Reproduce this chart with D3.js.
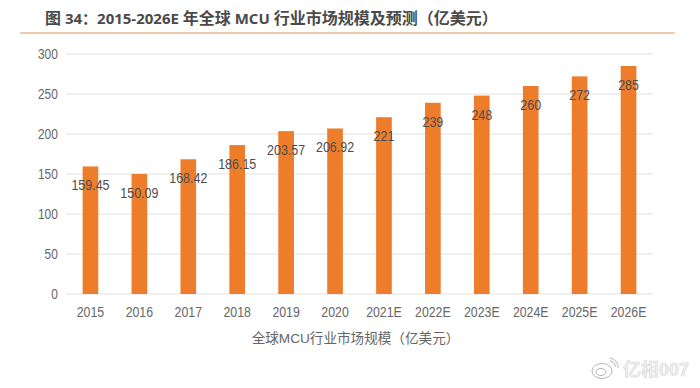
<!DOCTYPE html>
<html>
<head>
<meta charset="utf-8">
<script src="https://d3js.org/d3.v7.min.js"></script>
<style>
  html, body { margin: 0; padding: 0; background: #fff; }
  text { font-family: "Liberation Sans", "Noto Sans CJK SC", sans-serif; }
</style>
</head>
<body>
<svg id="chart" width="700" height="388"></svg>
<script>
var years = ["2015","2016","2017","2018","2019","2020","2021E","2022E","2023E","2024E","2025E","2026E"];
var values = [159.45,150.09,168.42,186.15,203.57,206.92,221,239,248,260,272,285];
var yTicks = [0,50,100,150,200,250,300];
var titleParts = ["图", " 34：2015-2026E ", "年全球", " MCU ", "行业市场规模及预测（亿美元）"];

var svg = d3.select("#chart");
var left = 66, right = 653, top_ = 54, bottom = 294;

var x = d3.scaleBand().domain(years).range([left, right]).paddingInner(0.68).paddingOuter(0.34);
var y = d3.scaleLinear().domain([0, 300]).range([bottom, top_]);

// title + rule, the chinese runs are a little bigger than the latin ones
var title = svg.append("text").attr("x", 45).attr("y", 24)
  .attr("font-weight", "bold").attr("fill", "#4a4a4a")
  .attr("xml:space", "preserve").style("white-space", "pre")
  .style("font-family", '"Open Sans", "Noto Sans CJK SC", sans-serif');
title.selectAll("tspan").data(titleParts).join("tspan")
  .attr("font-size", (d, i) => i % 2 == 0 ? 16 : 15)
  .text(d => d);

svg.append("line").attr("x1", 20).attr("x2", 675).attr("y1", 33).attr("y2", 33)
  .attr("stroke", "#e09a5c").attr("stroke-width", 1.2);

// grid
svg.append("g").selectAll("line").data(yTicks).join("line")
  .attr("x1", left).attr("x2", right)
  .attr("y1", d => y(d)).attr("y2", d => y(d))
  .attr("stroke", "#e2e2e2").attr("stroke-width", 1.2);

// axes, digits in the picture are tall and narrow so squeeze them sideways
var yAxis = svg.append("g").attr("transform", "translate(" + left + ",0)")
  .call(d3.axisLeft(y).tickValues(yTicks).tickSize(0).tickPadding(10));
yAxis.select(".domain").remove();
yAxis.selectAll("text").attr("font-size", 14.5).attr("fill", "#666")
  .attr("transform", "scale(0.82,1)")
  .style("font-family", '"Liberation Sans"');

var xAxis = svg.append("g").attr("transform", "translate(0," + bottom + ")")
  .call(d3.axisBottom(x).tickSize(0).tickPadding(13));
xAxis.select(".domain").remove();
xAxis.selectAll("text").attr("font-size", 14.5).attr("fill", "#666")
  .attr("transform", "scale(0.85,1)")
  .style("font-family", '"Liberation Sans"');

// bars
svg.append("g").selectAll("rect").data(values).join("rect")
  .attr("x", (d, i) => x(years[i]))
  .attr("y", d => y(d))
  .attr("width", x.bandwidth())
  .attr("height", d => bottom - y(d))
  .attr("fill", "#ee7d2b");

// value labels sit inside the bar, a bit below the top
svg.append("g").selectAll("text").data(values).join("text")
  .attr("transform", (d, i) => "translate(" + (x(years[i]) + x.bandwidth() / 2) + "," + (y(d) + 24) + ") scale(0.83,1)")
  .attr("text-anchor", "middle")
  .attr("font-size", 15).attr("fill", "#4d4d4d")
  .text(d => d);

// x axis caption
svg.append("text").attr("x", 355.5).attr("y", 343).attr("text-anchor", "middle")
  .attr("font-size", 13.6).attr("fill", "#666")
  .text("全球MCU行业市场规模（亿美元）");

// watermark
var blur = svg.append("defs").append("filter").attr("id", "soft");
blur.append("feGaussianBlur").attr("stdDeviation", 0.7);

var mark = svg.append("g").attr("fill", "none").attr("stroke", "#b5b5b5").attr("stroke-width", 1);
mark.append("ellipse").attr("cx", 602).attr("cy", 371).attr("rx", 10).attr("ry", 7.5);
mark.append("ellipse").attr("cx", 601).attr("cy", 372).attr("rx", 5).attr("ry", 3.5);
mark.append("path").attr("d", "M610 361a5 5 0 0 1 5 6M610 358a9 9 0 0 1 8 10");
svg.append("text").attr("x", 623).attr("y", 376).attr("font-size", 18).attr("font-weight", "bold")
  .attr("fill", "#eeeeee").attr("stroke", "#d8d8d8").attr("stroke-width", 0.6)
  .attr("filter", "url(#soft)")
  .text("亿相007");
</script>
</body>
</html>
